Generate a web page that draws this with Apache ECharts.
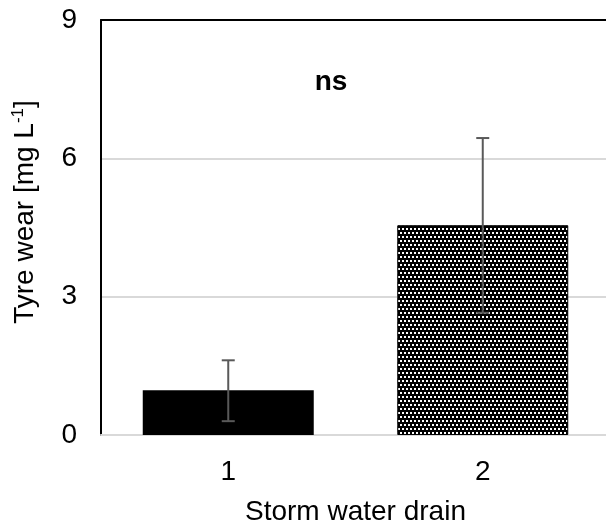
<!DOCTYPE html>
<html><head><meta charset="utf-8">
<script src="https://cdn.jsdelivr.net/npm/echarts@6/dist/echarts.min.js"></script>
<style>html,body{margin:0;padding:0;background:#fff}#c{width:606px;height:528px}</style>
</head><body><div id="c"></div>
<script>
var categories = ['1', '2'];
var means = [0.97, 4.55];
var errLow = [0.30, 2.65];
var errHigh = [1.62, 6.44];
var yTicks = [0, 3, 6, 9];

function makePattern() {
  var cv = document.createElement('canvas');
  cv.width = 4; cv.height = 8;
  var ctx = cv.getContext('2d');
  ctx.fillStyle = '#000'; ctx.fillRect(0, 0, 4, 8);
  ctx.fillStyle = '#fff';
  ctx.fillRect(0, 0, 2, 2);
  ctx.fillRect(2, 4, 2, 2);
  return cv;
}
var pat = makePattern();

var chart = echarts.init(document.getElementById('c'));
var font = 'Liberation Sans, Arial, sans-serif';
chart.setOption({
  animation: false,
  grid: {left: 101, top: 20, width: 509, height: 415, outerBoundsMode: 'none', containLabel: false},
  graphic: [{
    type: 'text', x: 331, y: 82,
    style: {text: 'ns', font: 'bold 28px ' + font, fill: '#000', align: 'center', verticalAlign: 'middle'}
  }, {
    type: 'text', x: 25, y: 212, rotation: Math.PI / 2,
    style: {
      text: '{a|Tyre wear [mg L}{b|-1}{a|]}', align: 'center', verticalAlign: 'middle',
      rich: {
        a: {fontFamily: font, fontSize: 28, fill: '#000'},
        b: {fontFamily: font, fontSize: 17, fill: '#000', padding: [0, 0, 14, 0]}
      }
    }
  }],
  xAxis: [{
    type: 'category', data: categories,
    axisLine: {lineStyle: {color: '#d9d9d9', width: 2}},
    axisTick: {show: false},
    axisLabel: {fontFamily: font, fontSize: 28, color: '#000', margin: 23},
    name: 'Storm water drain', nameLocation: 'middle', nameGap: 63,
    nameTextStyle: {fontFamily: font, fontSize: 28, color: '#000'}
  }, {
    type: 'category', data: categories, position: 'top',
    axisLine: {lineStyle: {color: '#000', width: 2}},
    axisTick: {show: false}, axisLabel: {show: false}
  }],
  yAxis: {
    type: 'value', min: yTicks[0], max: yTicks[yTicks.length - 1], interval: 3,
    axisLine: {show: true, lineStyle: {color: '#000', width: 2}},
    axisTick: {show: false},
    splitLine: {lineStyle: {color: '#d9d9d9', width: 2}},
    axisLabel: {fontFamily: font, fontSize: 28, color: '#000', margin: 24}
  },
  series: [{
    type: 'bar', barWidth: 171,
    data: means.map(function (v, i) {
      return {value: v, itemStyle: i === 0 ? {color: '#000'} : {color: {image: pat, repeat: 'repeat'}, borderColor: '#000', borderWidth: 1}};
    })
  }, {
    type: 'custom',
    data: categories.map(function (c, i) { return [i, errLow[i], errHigh[i]]; }),
    renderItem: function (params, api) {
      var lo = api.coord([api.value(0), api.value(1)]);
      var hi = api.coord([api.value(0), api.value(2)]);
      var w = 6.5;
      var st = {stroke: '#595959', lineWidth: 2};
      return {type: 'group', children: [
        {type: 'line', shape: {x1: hi[0], y1: hi[1], x2: lo[0], y2: lo[1]}, style: st},
        {type: 'line', shape: {x1: hi[0] - w, y1: hi[1], x2: hi[0] + w, y2: hi[1]}, style: st},
        {type: 'line', shape: {x1: lo[0] - w, y1: lo[1], x2: lo[0] + w, y2: lo[1]}, style: st}
      ]};
    },
    z: 10
  }]
});
</script></body></html>
